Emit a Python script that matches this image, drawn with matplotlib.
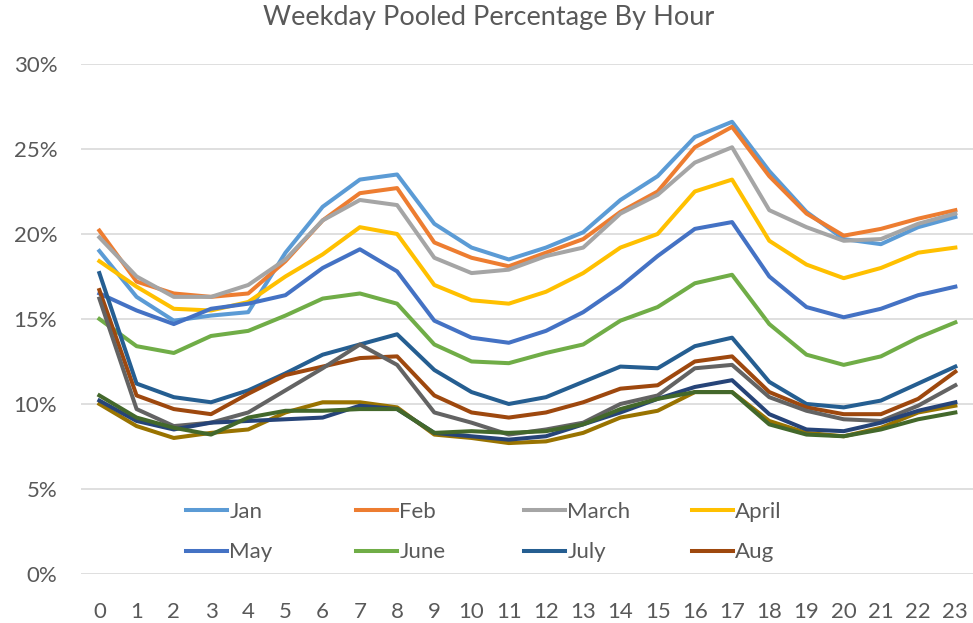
import matplotlib
matplotlib.use("Agg")
import matplotlib.pyplot as plt
from matplotlib.lines import Line2D
from matplotlib.ticker import PercentFormatter

plt.rcParams['font.family'] = ['Lato', 'DejaVu Sans']

hours = list(range(24))
months = ["Jan", "Feb", "March", "April", "May", "June", "July", "Aug",
          "Sep", "Oct", "Nov", "Dec"]
colors = ["#5B9BD5", "#ED7D31", "#A5A5A5", "#FFC000", "#4472C4", "#70AD47",
          "#255E91", "#9E480E", "#636363", "#997300", "#264478", "#43682B"]

# pooled share (%) by hour
jan = [19.0, 16.3, 14.9, 15.2, 15.4, 18.9, 21.6, 23.2, 23.5, 20.6, 19.2, 18.5,
       19.2, 20.1, 22.0, 23.4, 25.7, 26.6, 23.7, 21.3, 19.7, 19.4, 20.4, 21.0]
feb = [20.2, 17.2, 16.5, 16.3, 16.5, 18.4, 20.8, 22.4, 22.7, 19.5, 18.6, 18.1,
       18.9, 19.7, 21.3, 22.5, 25.1, 26.3, 23.4, 21.2, 19.9, 20.3, 20.9, 21.4]
march = [19.8, 17.5, 16.3, 16.3, 17.0, 18.5, 20.8, 22.0, 21.7, 18.6, 17.7, 17.9,
         18.7, 19.2, 21.2, 22.3, 24.2, 25.1, 21.4, 20.4, 19.6, 19.7, 20.6, 21.2]
april = [18.4, 16.9, 15.6, 15.5, 16.0, 17.5, 18.8, 20.4, 20.0, 17.0, 16.1, 15.9,
         16.6, 17.7, 19.2, 20.0, 22.5, 23.2, 19.6, 18.2, 17.4, 18.0, 18.9, 19.2]
may = [16.5, 15.5, 14.7, 15.6, 15.9, 16.4, 18.0, 19.1, 17.8, 14.9, 13.9, 13.6,
       14.3, 15.4, 16.9, 18.7, 20.3, 20.7, 17.5, 15.7, 15.1, 15.6, 16.4, 16.9]
june = [15.0, 13.4, 13.0, 14.0, 14.3, 15.2, 16.2, 16.5, 15.9, 13.5, 12.5, 12.4,
        13.0, 13.5, 14.9, 15.7, 17.1, 17.6, 14.7, 12.9, 12.3, 12.8, 13.9, 14.8]
july = [17.7, 11.2, 10.4, 10.1, 10.8, 11.8, 12.9, 13.5, 14.1, 12.0, 10.7, 10.0,
        10.4, 11.3, 12.2, 12.1, 13.4, 13.9, 11.3, 10.0, 9.8, 10.2, 11.2, 12.2]
aug = [16.7, 10.5, 9.7, 9.4, 10.6, 11.7, 12.2, 12.7, 12.8, 10.5, 9.5, 9.2,
       9.5, 10.1, 10.9, 11.1, 12.5, 12.8, 10.7, 9.8, 9.4, 9.4, 10.3, 11.9]
sep = [16.2, 9.7, 8.7, 8.9, 9.5, 10.8, 12.1, 13.5, 12.3, 9.5, 8.9, 8.2,
       8.5, 8.9, 10.0, 10.5, 12.1, 12.3, 10.4, 9.6, 9.1, 9.0, 9.9, 11.1]
oct_ = [10.0, 8.7, 8.0, 8.3, 8.5, 9.5, 10.1, 10.1, 9.8, 8.2, 8.0, 7.7,
        7.8, 8.3, 9.2, 9.6, 10.7, 10.7, 9.0, 8.3, 8.1, 8.6, 9.5, 9.9]
nov = [10.2, 9.0, 8.5, 8.9, 9.0, 9.1, 9.2, 9.9, 9.7, 8.3, 8.1, 7.9,
       8.1, 8.8, 9.5, 10.3, 11.0, 11.4, 9.4, 8.5, 8.4, 8.9, 9.6, 10.1]
dec = [10.5, 9.2, 8.6, 8.2, 9.2, 9.6, 9.6, 9.7, 9.7, 8.3, 8.4, 8.3,
       8.4, 8.8, 9.7, 10.3, 10.7, 10.7, 8.8, 8.2, 8.1, 8.5, 9.1, 9.5]
series = [jan, feb, march, april, may, june, july, aug, sep, oct_, nov, dec]

grey = "#595959"
fig = plt.figure(figsize=(9.73, 6.23), dpi=100)
ax = fig.add_axes([0.083, 0.0787, 0.918, 0.8186])

# later months drawn on top, like Excel
for i, vals in enumerate(series):
    ax.plot(hours, vals, color=colors[i], lw=2.9, zorder=3 + i * 0.01)

ax.set_xlim(-0.5, 23.5)
ax.set_ylim(0, 30)
ax.set_yticks(range(0, 31, 5))
ax.yaxis.set_major_formatter(PercentFormatter(decimals=0))
ax.set_xticks(hours)
ax.grid(axis="y", color="#D9D9D9", lw=1.2)
ax.set_axisbelow(True)
for s in ax.spines.values():
    s.set_visible(False)
ax.tick_params(length=0, labelsize=16, labelcolor=grey)
ax.tick_params(axis="x", pad=20)
ax.tick_params(axis="y", pad=17)

fig.text(0.502, 0.972, "Weekday Pooled Percentage By Hour", ha="center", va="center",
         fontsize=19.5, color=grey)

# Excel only shows the first 8 legend entries; lay them out on a fixed grid
col_x = [186, 356, 524, 692]
for c in range(4):
    idx = [c, c + 4]
    handles = [Line2D([], [], color=colors[k], lw=2.9) for k in idx]
    fig.legend(handles, [months[k] for k in idx], loc="upper left",
               bbox_to_anchor=(col_x[c] / 973, 1 - 502 / 623),
               frameon=False, fontsize=16, handlelength=1.85, handletextpad=0.1,
               labelspacing=0.92, borderaxespad=0, borderpad=0, labelcolor=grey)

fig.savefig("out.png", dpi=100)
